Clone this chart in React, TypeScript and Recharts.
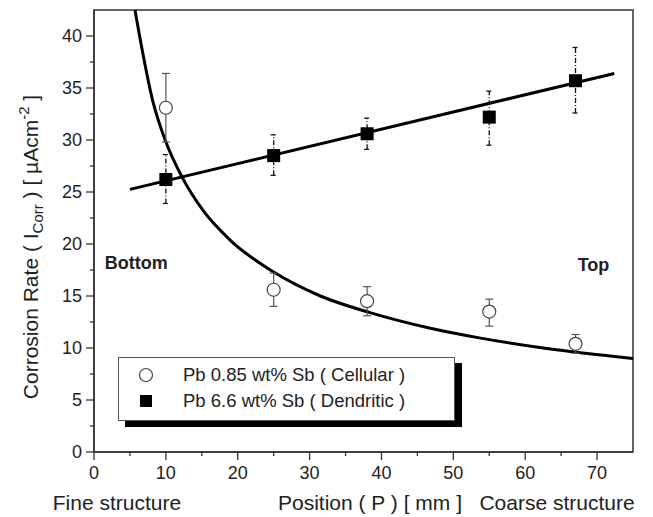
import {
  ComposedChart,
  Line,
  Scatter,
  ErrorBar,
  XAxis,
  YAxis,
  ReferenceArea,
  ReferenceDot,
} from "recharts";

const FONT = "'Liberation Sans', Arial, sans-serif";
const INK = "#222";
const AXIS = "#333";

// sample positions along the casting (mm)
const positions = [10, 25, 38, 55, 67];

// Pb 0.85 wt% Sb (cellular)
const cellularRate = [33.1, 15.6, 14.5, 13.5, 10.4];
const cellularHigh = [36.4, 17.2, 15.9, 14.7, 11.3];
const cellularLow = [29.8, 14.0, 13.1, 12.1, 9.5];

// Pb 6.6 wt% Sb (dendritic)
const dendriticRate = [26.2, 28.5, 30.6, 32.2, 35.7];
const dendriticHigh = [28.6, 30.5, 32.1, 34.7, 38.9];
const dendriticLow = [23.9, 26.6, 29.1, 29.5, 32.6];

// fitted curves
const powerFitX = [5.7, 8.2, 9.9, 12.2, 15.2, 18.9, 25, 31.5, 38.4, 46.8, 53.8, 63, 75];
const powerFitY = [42.5, 33.7, 30.0, 26.5, 23.2, 20.4, 17.3, 15.0, 13.4, 11.9, 10.95, 9.95, 9.0];
const linearFitX = [5, 72.4];
const linearFitY = [25.25, 36.4];

const xMajor = [0, 10, 20, 30, 40, 50, 60, 70];
const xMinor = [5, 15, 25, 35, 45, 55, 65];
const yMajor = [0, 5, 10, 15, 20, 25, 30, 35, 40];
const yMinor = [2.5, 7.5, 12.5, 17.5, 22.5, 27.5, 32.5, 37.5];

const TICK = 8;
const MINOR = 4;
const GAP = 4;

const withErrors = (ys: number[], hi: number[], lo: number[]) =>
  positions.map((x, i) => ({ x, y: ys[i], err: [ys[i] - lo[i], hi[i] - ys[i]] }));

const cellularData = withErrors(cellularRate, cellularHigh, cellularLow);
const dendriticData = withErrors(dendriticRate, dendriticHigh, dendriticLow);
const powerFit = powerFitX.map((x, i) => ({ x, y: powerFitY[i] }));
const linearFit = linearFitX.map((x, i) => ({ x, y: linearFitY[i] }));

function YTick(props: any) {
  const { x, y, payload } = props;
  const major = yMajor.includes(payload.value);
  const ax = x + GAP + TICK;
  return (
    <g>
      <line x1={ax - (major ? TICK : MINOR)} x2={ax} y1={y} y2={y} stroke={AXIS} strokeWidth={1.3} />
      {major && (
        <text x={x} y={y} dy={6} textAnchor="end" fontFamily={FONT} fontSize={18} fill={INK}>
          {payload.value}
        </text>
      )}
    </g>
  );
}

function XTick(props: any) {
  const { x, y, payload } = props;
  const major = xMajor.includes(payload.value);
  const ay = y - GAP - TICK;
  return (
    <g>
      <line x1={x} x2={x} y1={ay} y2={ay + (major ? TICK : MINOR)} stroke={AXIS} strokeWidth={1.3} />
      {major && (
        <text x={x} y={y} dy={15} textAnchor="middle" fontFamily={FONT} fontSize={18} fill={INK}>
          {payload.value}
        </text>
      )}
    </g>
  );
}

function XLabel(props: any) {
  const { x, y, width } = props.viewBox;
  const base = y + 58;
  const style = { fontFamily: FONT, fontSize: 21, fill: INK };
  return (
    <g>
      <text x={x + 23} y={base} textAnchor="middle" {...style}>Fine structure</text>
      <text x={x + 276} y={base} textAnchor="middle" {...style}>Position ( P ) [ mm ]</text>
      <text x={x + width - 76} y={base} textAnchor="middle" {...style}>Coarse structure</text>
    </g>
  );
}

function YLabel(props: any) {
  const { y, height } = props.viewBox;
  const cy = y + height / 2 + 16;
  return (
    <text
      transform={`translate(38, ${cy}) rotate(-90)`}
      textAnchor="middle"
      fontFamily={FONT}
      fontSize={21}
      fill={INK}
    >
      Corrosion Rate (  I
      <tspan fontSize={15} dy={5}>Corr</tspan>
      <tspan dy={-5}> )  [ µAcm</tspan>
      <tspan fontSize={15} dy={-9}>-2</tspan>
      <tspan dy={9}> ]</tspan>
    </text>
  );
}

function TextMark(props: any) {
  const { x, y } = props.viewBox;
  return (
    <text x={x} y={y + 6} fontFamily={FONT} fontSize={18} fontWeight="bold" fill={INK}>
      {props.text}
    </text>
  );
}

const Circle = (props: any) => (
  <circle cx={props.cx} cy={props.cy} r={6.5} fill="#fff" stroke="#444" strokeWidth={1.2} />
);

const Square = (props: any) => (
  <rect x={props.cx - 6.5} y={props.cy - 6.5} width={13} height={13} fill="#000" />
);

function LegendBox() {
  const row = { display: "flex", alignItems: "center", height: 26 };
  return (
    <div
      style={{
        position: "absolute",
        left: 118,
        top: 357,
        width: 335,
        height: 58,
        border: "1px solid #555",
        background: "#fff",
        boxShadow: "7px 6px 0 #000",
        fontFamily: FONT,
        fontSize: 18.5,
        color: INK,
        boxSizing: "content-box",
        paddingTop: 4,
      }}
    >
      {[
        { label: "Pb 0.85 wt% Sb ( Cellular )", open: true },
        { label: "Pb 6.6 wt% Sb ( Dendritic )", open: false },
      ].map((item) => (
        <div key={item.label} style={row}>
          <svg width={64} height={20} style={{ flex: "none" }}>
            {item.open ? (
              <circle cx={27} cy={10} r={6.5} fill="#fff" stroke="#444" strokeWidth={1.2} />
            ) : (
              <rect x={21} y={4} width={12} height={12} fill="#000" />
            )}
          </svg>
          <span>{item.label}</span>
        </div>
      ))}
    </div>
  );
}

export default function App() {
  return (
    <div style={{ position: "absolute", left: 0, top: 0, width: 653, height: 517, background: "#fff" }}>
      <ComposedChart
        width={653}
        height={517}
        margin={{ top: 10, right: 20, bottom: 35, left: 34 }}
      >
        <XAxis
          type="number"
          dataKey="x"
          domain={[0, 75]}
          ticks={[...xMajor, ...xMinor].sort((a, b) => a - b)}
          interval={0}
          allowDataOverflow
          height={30}
          tickSize={TICK}
          tickMargin={GAP}
          tickLine={false}
          tick={<XTick />}
          axisLine={{ stroke: AXIS, strokeWidth: 1.5 }}
          label={<XLabel />}
        />
        <YAxis
          type="number"
          dataKey="y"
          domain={[0, 42.5]}
          ticks={[...yMajor, ...yMinor].sort((a, b) => a - b)}
          interval={0}
          allowDataOverflow
          width={60}
          tickSize={TICK}
          tickMargin={GAP}
          tickLine={false}
          tick={<YTick />}
          axisLine={{ stroke: AXIS, strokeWidth: 1.5 }}
          label={<YLabel />}
        />
        <ReferenceArea
          x1={0}
          x2={75}
          y1={0}
          y2={42.5}
          fill="none"
          stroke={AXIS}
          strokeWidth={1.5}
          fillOpacity={0}
        />
        <Line
          data={powerFit}
          dataKey="y"
          type="monotone"
          stroke="#000"
          strokeWidth={3}
          dot={false}
          activeDot={false}
          isAnimationActive={false}
        />
        <Line
          data={linearFit}
          dataKey="y"
          type="linear"
          stroke="#000"
          strokeWidth={3}
          dot={false}
          activeDot={false}
          isAnimationActive={false}
        />
        <Scatter data={cellularData} dataKey="y" shape={<Circle />} isAnimationActive={false}>
          <ErrorBar dataKey="err" direction="y" width={4} stroke="#555" strokeWidth={1.2} />
        </Scatter>
        <Scatter data={dendriticData} dataKey="y" shape={<Square />} isAnimationActive={false}>
          <ErrorBar
            dataKey="err"
            direction="y"
            width={3}
            stroke="#111"
            strokeWidth={1.3}
            strokeDasharray="5 2 1 2"
          />
        </Scatter>
        <ReferenceDot x={1.5} y={18.2} r={0} fill="none" stroke="none" label={<TextMark text="Bottom" />} />
        <ReferenceDot x={67.3} y={18.0} r={0} fill="none" stroke="none" label={<TextMark text="Top" />} />
      </ComposedChart>
      <LegendBox />
    </div>
  );
}
